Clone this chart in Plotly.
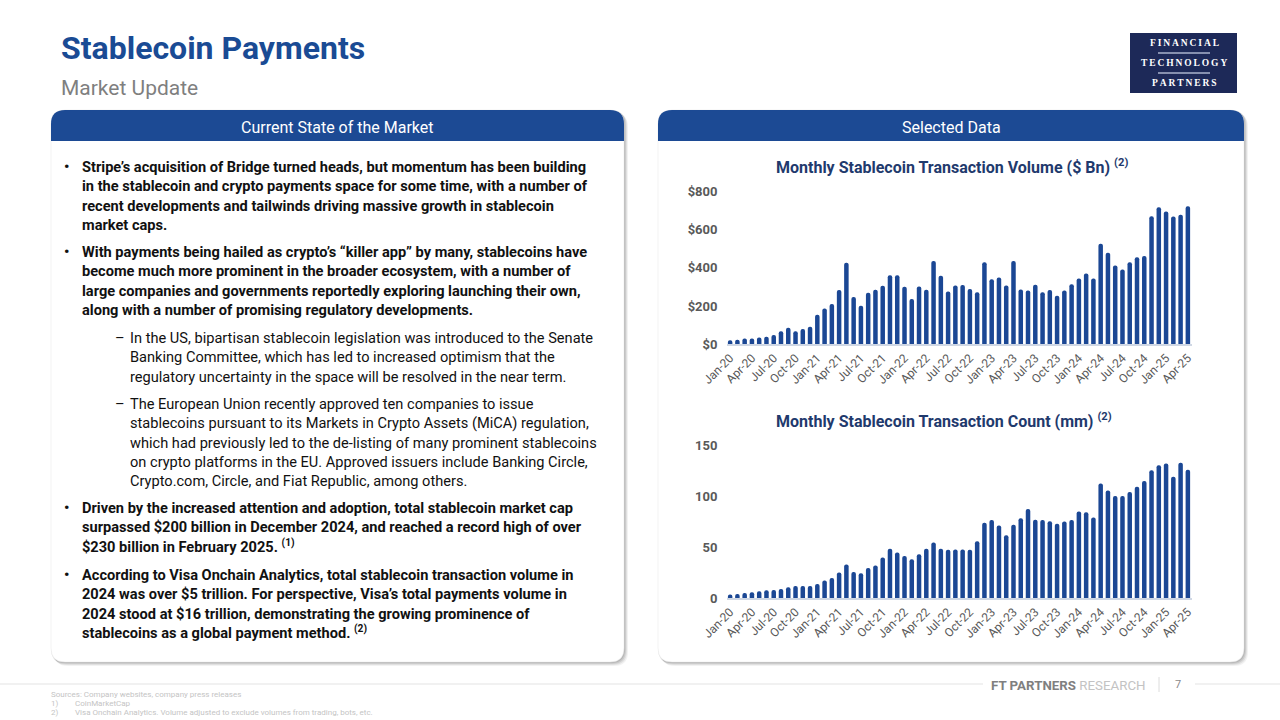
import plotly.graph_objects as go

W, H = 1280, 720

# ---------------- data ----------------
month_names = ["Jan", "Feb", "Mar", "Apr", "May", "Jun", "Jul", "Aug", "Sep", "Oct", "Nov", "Dec"]
months = [f"{m}-{y}" for y in range(20, 26) for m in month_names][:64]  # Jan-20 .. Apr-25

volume_bn = [21, 24, 31, 30, 35, 40, 49, 68, 87, 68, 80, 92,
             155, 188, 211, 284, 427, 247, 202, 270, 286, 307, 362, 361,
             301, 237, 303, 286, 436, 359, 277, 308, 310, 289, 272, 430,
             341, 350, 308, 436, 287, 282, 312, 273, 284, 254, 282, 315,
             345, 371, 345, 526, 479, 413, 392, 430, 456, 462, 671, 718,
             695, 669, 678, 723]

count_mm = [3.6, 4.2, 5.2, 5.9, 6.9, 7.8, 8.2, 9.2, 10.8, 12.1, 12.1, 12.1,
            14.1, 17.3, 19.9, 25.2, 33.0, 25.8, 24.5, 29.7, 32.0, 39.9, 48.4, 44.8,
            41.5, 38.2, 43.1, 48.4, 54.6, 48.4, 47.4, 47.7, 47.7, 47.4, 55.9, 73.9,
            76.5, 71.2, 61.8, 71.9, 78.4, 87.3, 76.8, 76.5, 75.5, 72.9, 75.2, 76.5,
            85.0, 84.3, 79.1, 112.4, 105.6, 100.0, 100.0, 103.9, 109.2, 114.7, 125.2, 130.1,
            132.0, 119.0, 132.7, 125.8]

tick_labels = months[::3]
vol_ticks = [0, 200, 400, 600, 800]
vol_tick_text = ["$0", "$200", "$400", "$600", "$800"]
cnt_ticks = [0, 50, 100, 150]
cnt_tick_text = ["0", "50", "100", "150"]

# ---------------- helpers ----------------
def px(x):
    return x / W

def py(y):
    return 1 - y / H

def rrect_path(x0, y0, x1, y1, r):
    X0, X1, Y0, Y1 = px(x0), px(x1), py(y0), py(y1)
    rx, ry = r / W, r / H
    return (f"M {X0+rx},{Y0} L {X1-rx},{Y0} Q {X1},{Y0} {X1},{Y0-ry} "
            f"L {X1},{Y1+ry} Q {X1},{Y1} {X1-rx},{Y1} L {X0+rx},{Y1} "
            f"Q {X0},{Y1} {X0},{Y1+ry} L {X0},{Y0-ry} Q {X0},{Y0} {X0+rx},{Y0} Z")

def top_round_path(x0, y0, x1, y1, r):
    X0, X1, Y0, Y1 = px(x0), px(x1), py(y0), py(y1)
    rx, ry = r / W, r / H
    return (f"M {X0},{Y1} L {X0},{Y0-ry} Q {X0},{Y0} {X0+rx},{Y0} "
            f"L {X1-rx},{Y0} Q {X1},{Y0} {X1},{Y0-ry} L {X1},{Y1} Z")

annotations = []
shapes = []

def txt(x, y, text, size=14, color="#000", xanchor="left", yanchor="middle",
        family="Roboto"):
    annotations.append(dict(x=px(x), y=py(y), xref="paper", yref="paper",
                            text=text, showarrow=False, xanchor=xanchor,
                            yanchor=yanchor, align="left",
                            font=dict(size=size, color=color, family=family)))

BLUE = "#1c4a94"
BAR = "#1b4794"

# ---------------- panels ----------------
for (x0, x1) in [(51, 624), (658, 1244)]:
    y0, y1 = 110, 662
    for off, op in [(4, 0.05), (3, 0.07), (2, 0.09), (1, 0.10)]:
        shapes.append(dict(type="path", xref="paper", yref="paper", layer="below",
                           path=rrect_path(x0 + off - 1, y0 + off - 1, x1 + off, y1 + off, 14),
                           fillcolor=f"rgba(0,0,0,{op})", line=dict(width=0)))
    shapes.append(dict(type="path", xref="paper", yref="paper", layer="below",
                       path=rrect_path(x0, y0, x1, y1, 14),
                       fillcolor="white", line=dict(color="#e6e6e6", width=0.5)))
    shapes.append(dict(type="path", xref="paper", yref="paper", layer="below",
                       path=top_round_path(x0, y0, x1, 141, 14),
                       fillcolor=BLUE, line=dict(width=0)))

txt(337, 127, "Current State of the Market", 16, "white", xanchor="center")
txt(951, 127, "Selected Data", 16, "white", xanchor="center")

# ---------------- title / logo ----------------
txt(59, 48, "<b>Stablecoin Payments</b>", 32, "#1a4b94")
txt(59, 88, "Market Update", 21, "#7f7f7f")

shapes.append(dict(type="rect", xref="paper", yref="paper",
                   x0=px(1130), x1=px(1237), y0=py(93), y1=py(33),
                   fillcolor="#1d2958", line=dict(width=0)))
for yy in (53, 73):
    shapes.append(dict(type="line", xref="paper", yref="paper",
                       x0=px(1158), x1=px(1210), y0=py(yy), y1=py(yy),
                       line=dict(color="#aab3cc", width=1.5)))
sp = "\u2009"
for word, yy in [("FINANCIAL", 43), ("TECHNOLOGY", 63), ("PARTNERS", 83)]:
    txt(1184, yy, "<b>" + sp.join(word) + "</b>", 9.5, "white", xanchor="center",
        family="Liberation Serif")

# ---------------- left text ----------------
LH = 19.3
FS = 14.6
bullets = [
    (167, ["Stripe’s acquisition of Bridge turned heads, but momentum has been building",
           "in the stablecoin and crypto payments space for some time, with a number of",
           "recent developments and tailwinds driving massive growth in stablecoin",
           "market caps."], True),
    (252, ["With payments being hailed as crypto’s “killer app” by many, stablecoins have",
           "become much more prominent in the broader ecosystem, with a number of",
           "large companies and governments reportedly exploring launching their own,",
           "along with a number of promising regulatory developments."], True),
    (338, ["In the US, bipartisan stablecoin legislation was introduced to the Senate",
           "Banking Committee, which has led to increased optimism that the",
           "regulatory uncertainty in the space will be resolved in the near term."], False),
    (404, ["The European Union recently approved ten companies to issue",
           "stablecoins pursuant to its Markets in Crypto Assets (MiCA) regulation,",
           "which had previously led to the de-listing of many prominent stablecoins",
           "on crypto platforms in the EU. Approved issuers include Banking Circle,",
           "Crypto.com, Circle, and Fiat Republic, among others."], False),
    (508, ["Driven by the increased attention and adoption, total stablecoin market cap",
           "surpassed $200 billion in December 2024, and reached a record high of over",
           "$230 billion in February 2025. <sup>(1)</sup>"], True),
    (575, ["According to Visa Onchain Analytics, total stablecoin transaction volume in",
           "2024 was over $5 trillion. For perspective, Visa’s total payments volume in",
           "2024 stood at $16 trillion, demonstrating the growing prominence of",
           "stablecoins as a global payment method. <sup>(2)</sup>"], True),
]
for y0, lines, main in bullets:
    if main:
        txt(62, y0, "<b>•</b>", 15, "#111")
        xt = 80
    else:
        txt(113, y0, "–", FS, "#111")
        xt = 128
    for i, line in enumerate(lines):
        t = f"<b>{line}</b>" if main else line
        txt(xt, y0 + i * LH, t, FS, "#111")

# ---------------- chart titles ----------------
txt(952, 166, "<b>Monthly Stablecoin Transaction Volume ($ Bn)</b> <b><sup>(2)</sup></b>",
    16, "#1f3a6d", xanchor="center")
txt(944, 420, "<b>Monthly Stablecoin Transaction Count (mm)</b> <b><sup>(2)</sup></b>",
    16, "#1f3a6d", xanchor="center")

# ---------------- footer ----------------
shapes.append(dict(type="line", xref="paper", yref="paper", x0=0, x1=px(983),
                   y0=py(684), y1=py(684), line=dict(color="#e3e3e3", width=1)))
shapes.append(dict(type="line", xref="paper", yref="paper", x0=px(1195), x1=1,
                   y0=py(684), y1=py(684), line=dict(color="#e3e3e3", width=1)))
txt(989, 685, "<b>FT PARTNERS</b> <span style='color:#c3c3c3'>RESEARCH</span>", 13.3, "#7f7f7f")
shapes.append(dict(type="line", xref="paper", yref="paper", x0=px(1159), x1=px(1159),
                   y0=py(677), y1=py(692), line=dict(color="#dcdcdc", width=1)))
txt(1178, 684, "7", 11, "#8a8a8a", xanchor="center")

txt(49, 694, "Sources: Company websites, company press releases", 8, "#c4c4c4")
txt(49, 703, "1)", 8, "#c4c4c4")
txt(73, 703, "CoinMarketCap", 8, "#c4c4c4")
txt(49, 712, "2)", 8, "#c4c4c4")
txt(73, 712, "Visa Onchain Analytics. Volume adjusted to exclude volumes from trading, bots, etc.",
    8, "#c4c4c4")

# ---------------- charts ----------------
fig = go.Figure()
fig.add_trace(go.Bar(x=months, y=volume_bn, xaxis="x", yaxis="y",
                     marker=dict(color=BAR, cornerradius=2, line=dict(width=0)),
                     hoverinfo="skip"))
fig.add_trace(go.Bar(x=months, y=count_mm, xaxis="x2", yaxis="y2",
                     marker=dict(color=BAR, cornerradius=2, line=dict(width=0)),
                     hoverinfo="skip"))

XD = [px(726.5), px(1191.5)]
xcommon = dict(type="category", range=[-0.5, 63.5], tickmode="array",
               tickvals=tick_labels, ticktext=tick_labels, tickangle=-45,
               showgrid=False, zeroline=False, showline=True,
               linecolor="#cfd7e4", linewidth=2, ticks="",
               tickfont=dict(family="Roboto", size=12, color="#595959"),
               automargin=False, fixedrange=True)
ycommon = dict(showgrid=False, zeroline=False, showline=False, ticks="",
               tickmode="array",
               tickfont=dict(family="Roboto", size=13, color="#595959", weight="bold"),
               ticklabelstandoff=8, automargin=False, fixedrange=True)

fig.update_layout(
    width=W, height=H, margin=dict(l=0, r=0, t=0, b=0),
    paper_bgcolor="white", plot_bgcolor="rgba(0,0,0,0)",
    showlegend=False, bargap=0.38,
    xaxis=dict(domain=XD, anchor="y", **xcommon),
    yaxis=dict(domain=[py(344.3), py(191.5)], anchor="x", range=[0, 800],
               tickvals=vol_ticks, ticktext=vol_tick_text, **ycommon),
    xaxis2=dict(domain=XD, anchor="y2", **xcommon),
    yaxis2=dict(domain=[py(598.3), py(445)], anchor="x2", range=[0, 150],
                tickvals=cnt_ticks, ticktext=cnt_tick_text, **ycommon),
    shapes=shapes, annotations=annotations,
)

fig.write_html("out.html", config={"displayModeBar": False},
               post_script="document.body.style.margin='0';document.body.style.padding='0';")
